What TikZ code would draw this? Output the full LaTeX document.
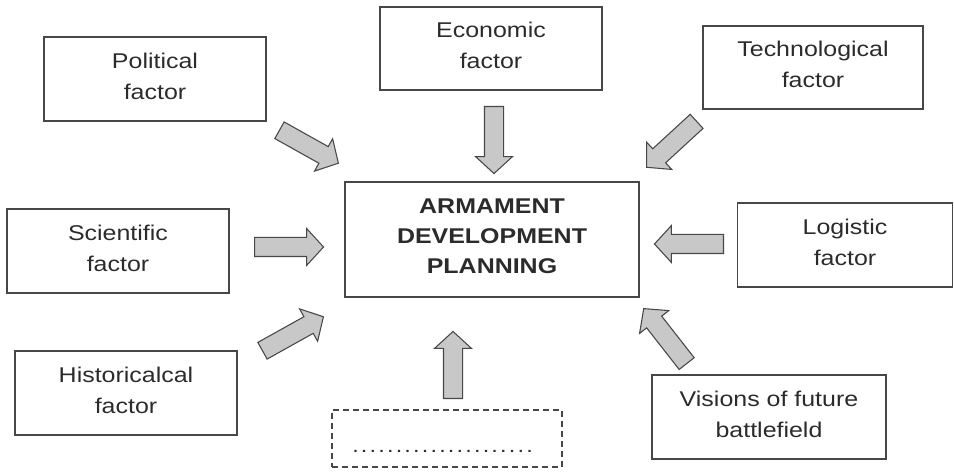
\documentclass[tikz,border=0pt]{standalone}
\usepackage{fontspec}
\setmainfont{Liberation Sans}[FakeStretch=1.17]
\usetikzlibrary{shapes.arrows,calc}
\definecolor{ink}{HTML}{2B2B2B}
\definecolor{edge}{HTML}{474747}
\definecolor{arrfill}{HTML}{C8C8C8}
\newcommand\fatarrow[3]{%
  \path let \p1=($(#3)-(#2)$), \n1={atan2(\y1,\x1)}, \n2={veclen(\x1,\y1)} in
    node[fat, rotate=\n1, minimum height=\n2, anchor=tail] (#1) at (#2) {};}
\begin{document}
\begin{tikzpicture}[x=0.75pt,y=-0.75pt,
  box/.style={draw=edge, line width=1pt, text=ink, align=center, inner sep=0pt,
    font=\fontsize{16}{23.25}\selectfont, minimum width=166.5pt, minimum height=63pt,
    text depth=4.5pt},
  dbox/.style={draw=edge, line width=1pt, dash pattern=on 4.5pt off 3pt, inner sep=0pt},
  fat/.style={single arrow, draw=edge, fill=arrfill, line width=0.8pt, inner xsep=0pt,
    inner ysep=6.75pt, minimum width=0pt, single arrow head extend=6.75pt,
    single arrow tip angle=95, single arrow head indent=0pt}]
\useasboundingbox (0,0) rectangle (954,474);
\node[box] (pol) at (155,79) {Political\\factor};
\node[box, minimum height=62.25pt] (eco) at (491,48.5) {Economic\\factor};
\node[box, minimum width=165pt, minimum height=62.25pt] (tec) at (813,67.5) {Technological\\factor};
\node[box, minimum width=220.5pt, minimum height=86.25pt, font=\fontsize{16}{22.5}\selectfont\bfseries] (adp) at (492,239.5) {ARMAMENT\\DEVELOPMENT\\PLANNING};
\node[box] (sci) at (118,251) {Scientific\\factor};
\node[box, minimum width=161.25pt] (log) at (845,245) {Logistic\\factor};
\node[box] (his) at (126,393) {Historicalcal\\factor};
\node[box, minimum width=175.5pt] (vis) at (769,417) {Visions of future\\battlefield};
\node[dbox, minimum width=172.5pt, minimum height=42.75pt] (oth) at (447,438.5) {};
\node[text=ink, inner sep=0pt, font=\fontsize{15}{16}\selectfont] (dots) at (442.5,451)
  {\hbox to 137pt{\xleaders\hbox to 6.5pt{\hss.\hss}\hfill}};
% arrow end points
\coordinate (pt1) at (279,130); \coordinate (ph1) at (338,163);
\coordinate (pt2) at (494,106); \coordinate (ph2) at (494,173);
\coordinate (pt3) at (697,121); \coordinate (ph3) at (647,167);
\coordinate (pt4) at (254,247); \coordinate (ph4) at (323,247);
\coordinate (pt5) at (724,244); \coordinate (ph5) at (655,244);
\coordinate (pt6) at (262,351); \coordinate (ph6) at (323,317);
\coordinate (pt7) at (453,399); \coordinate (ph7) at (453,332);
\coordinate (pt8) at (687,364); \coordinate (ph8) at (644,309);
\fatarrow{a1}{pt1}{ph1}
\fatarrow{a2}{pt2}{ph2}
\fatarrow{a3}{pt3}{ph3}
\fatarrow{a4}{pt4}{ph4}
\fatarrow{a5}{pt5}{ph5}
\fatarrow{a6}{pt6}{ph6}
\fatarrow{a7}{pt7}{ph7}
\fatarrow{a8}{pt8}{ph8}
\end{tikzpicture}
\end{document}
